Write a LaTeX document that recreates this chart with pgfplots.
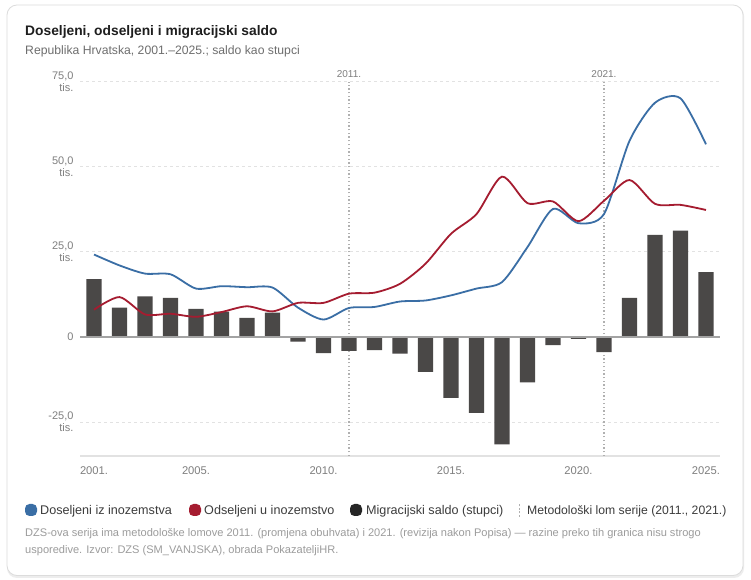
\documentclass[border=0pt]{standalone}
\usepackage{fontspec}
\setmainfont{Liberation Sans}
\usepackage{pgfplots}
\pgfplotsset{compat=1.18}
\definecolor{cblue}{HTML}{3A6EA5}
\definecolor{cred}{HTML}{A51C30}
\definecolor{cbar}{HTML}{4A4847}
\definecolor{ctick}{HTML}{7F7F7F}
\definecolor{cgrid}{HTML}{E2E2E2}
\definecolor{czero}{HTML}{A3A3A3}
\definecolor{cvline}{HTML}{B0B0B0}
\definecolor{ctitle}{HTML}{1E1E1E}
\definecolor{csub}{HTML}{6E6E6E}
\definecolor{cfoot}{HTML}{9C9C9C}
\definecolor{cborder}{HTML}{DCDCDC}
\definecolor{clegtxt}{HTML}{3C3C3C}
\definecolor{cblack}{HTML}{262626}

\begin{document}
\begin{tikzpicture}[x=1bp,y=1bp]
\useasboundingbox (0,0) rectangle (751,580);
\fill[white] (0,0) rectangle (751,580);
\fill[black!7, rounded corners=10bp] (7,2) rectangle (744,574);
\draw[cborder, fill=white, rounded corners=10bp, line width=0.8bp] (7,4.5) rectangle (743,575);

\node[anchor=base west, inner sep=0, text=ctitle, font=\fontsize{13.8bp}{16bp}\selectfont\bfseries] at (25,544) {Doseljeni, odseljeni i migracijski saldo};
\node[anchor=base west, inner sep=0, text=csub, font=\fontsize{12.2bp}{14bp}\selectfont] at (25,525) {Republika Hrvatska, 2001.–2025.; saldo kao stupci};

\begin{axis}[
  at={(80bp,124bp)}, anchor=south west,
  width=640bp, height=374.3bp, scale only axis,
  xmin=2000.45, xmax=2025.55, ymin=-35, ymax=75,
  clip=false,
  axis line style={draw=none},
  major tick length=0pt,
  xtick={2001,2005,2010,2015,2020,2025},
  xticklabels={2001.,2005.,2010.,2015.,2020.,2025.},
  xticklabel style={font=\fontsize{11.2bp}{12bp}\selectfont, text=ctick, yshift=-7bp},
  ytick={-25,0,25,50,75},
  yticklabels={{-25,0\\tis.},{0},{25,0\\tis.},{50,0\\tis.},{75,0\\tis.}},
  yticklabel style={align=right, font=\fontsize{11bp}{11.7bp}\selectfont, text=ctick, xshift=-3bp},
  ymajorgrids,
  grid style={cgrid, line width=0.9bp, dash pattern=on 3bp off 3bp},
]
\draw[cgrid, line width=2bp] (axis cs:2000.45,-35) -- (axis cs:2025.55,-35);
\draw[cvline, line width=1.3bp, dash pattern=on 1.3bp off 2.4bp] (axis cs:2011,-35) -- (axis cs:2011,75);
\draw[cvline, line width=1.3bp, dash pattern=on 1.3bp off 2.4bp] (axis cs:2021,-35) -- (axis cs:2021,75);
\node[anchor=south, inner sep=0, font=\fontsize{10bp}{12bp}\selectfont, text=ctick] at (axis cs:2011,75) [yshift=3.5bp] {2011.};
\node[anchor=south, inner sep=0, font=\fontsize{10bp}{12bp}\selectfont, text=ctick] at (axis cs:2021,75) [yshift=3.5bp] {2021.};

\addplot[ybar, bar width=0.6, fill=cbar, draw=none] coordinates {
(2001,17.0) (2002,8.6) (2003,11.9) (2004,11.5) (2005,8.2) (2006,7.4) (2007,5.6) (2008,7.1)
(2009,-1.4) (2010,-4.8) (2011,-4.1) (2012,-3.9) (2013,-4.9) (2014,-10.3) (2015,-17.9)
(2016,-22.3) (2017,-31.6) (2018,-13.4) (2019,-2.4) (2020,-0.6) (2021,-4.5) (2022,11.5)
(2023,30.0) (2024,31.2) (2025,19.0)};

\draw[czero, line width=1.4bp] (axis cs:2000.45,0) -- (axis cs:2025.55,0);

\addplot[cblue, line width=1.8bp, smooth, tension=0.45] coordinates {
(2001,24.2) (2002,21.0) (2003,18.6) (2004,18.4) (2005,14.2) (2006,14.9) (2007,14.6) (2008,14.5)
(2009,8.6) (2010,5.1) (2011,8.5) (2012,8.8) (2013,10.4) (2014,10.7) (2015,12.2) (2016,14.2)
(2017,16.1) (2018,26.4) (2019,37.6) (2020,33.4) (2021,36.1) (2022,57.6) (2023,68.8)
(2024,70.1) (2025,56.6)};

\addplot[cred, line width=1.8bp, smooth, tension=0.45] coordinates {
(2001,8.0) (2002,11.7) (2003,6.6) (2004,6.8) (2005,5.9) (2006,7.3) (2007,9.0) (2008,7.5)
(2009,10.0) (2010,10.0) (2011,12.7) (2012,13.0) (2013,15.6) (2014,21.5) (2015,30.3)
(2016,36.1) (2017,47.1) (2018,39.3) (2019,39.8) (2020,34.0) (2021,40.0) (2022,46.1)
(2023,39.1) (2024,38.8) (2025,37.3)};
\end{axis}

% legend
\fill[cblue, rounded corners=4.5bp] (25,64) rectangle (37,76);
\node[anchor=base west, inner sep=0, text=clegtxt, font=\fontsize{12.6bp}{14bp}\selectfont] at (40,65.5) {Doseljeni iz inozemstva};
\fill[cred, rounded corners=4.5bp] (189,64) rectangle (201,76);
\node[anchor=base west, inner sep=0, text=clegtxt, font=\fontsize{12.6bp}{14bp}\selectfont] at (204,65.5) {Odseljeni u inozemstvo};
\fill[cblack, rounded corners=4.5bp] (350,64) rectangle (362,76);
\node[anchor=base west, inner sep=0, text=clegtxt, font=\fontsize{12.6bp}{14bp}\selectfont] at (366,65.5) {Migracijski saldo (stupci)};
\draw[cvline, line width=1bp, dash pattern=on 2bp off 1.5bp] (519,63) -- (519,77);
\node[anchor=base west, inner sep=0, text=clegtxt, font=\fontsize{12.2bp}{14bp}\selectfont] at (527,65.5) {Metodološki lom serije (2011., 2021.)};

% footnote
\node[anchor=base west, inner sep=0, text=cfoot, font=\fontsize{11.05bp}{13bp}\selectfont] at (25,43) {DZS-ova serija ima metodološke lomove 2011. (promjena obuhvata) i 2021. (revizija nakon Popisa) — razine preko tih granica nisu strogo};
\node[anchor=base west, inner sep=0, text=cfoot, font=\fontsize{11.05bp}{13bp}\selectfont] at (25,26) {usporedive. Izvor: DZS (SM\_VANJSKA), obrada PokazateljiHR.};
\end{tikzpicture}
\end{document}
